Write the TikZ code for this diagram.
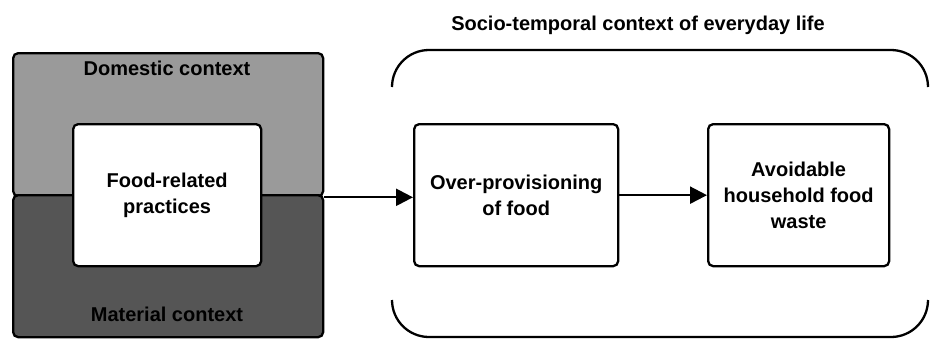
\documentclass[tikz,border=0pt]{standalone}
\usepackage{fontspec}
\setmainfont{Liberation Sans}
\usetikzlibrary{arrows.meta}
\definecolor{domgray}{HTML}{9A9A9A}
\definecolor{matgray}{HTML}{555555}
\begin{document}
\begin{tikzpicture}[x=1pt,y=-1pt,
  box/.style={draw=black,line width=2.3pt,rounded corners=5pt,inner sep=0pt,align=center,
    font=\bfseries\fontsize{20}{26}\selectfont},
  ctx/.style={font=\bfseries\fontsize{20}{24}\selectfont},
  arr/.style={line width=2.3pt,-{Triangle[length=17pt,width=17pt]}}]
\useasboundingbox (0,0) rectangle (932,338);
% left contexts
\node[box,fill=domgray,minimum width=310pt,minimum height=143pt,anchor=north west] (dom) at (12,52) {};
\node[box,fill=matgray,minimum width=310pt,minimum height=142pt,anchor=north west] (mat) at (12,194) {};
\node[ctx] (domlab) at (167,68) {Domestic context};
\node[ctx] (matlab) at (167,314) {Material context};
\node[box,fill=white,minimum width=188pt,minimum height=142pt,anchor=north west] (frp) at (72,123) {Food-related\\practices};
% socio-temporal bracket
\node[ctx] (title) at (638,25) {Socio-temporal context of everyday life};
\coordinate (tl) at (392,87);
\coordinate (bl) at (392,300);
\draw[line width=2.3pt] (tl) arc[start angle=180,end angle=90,radius=37pt] -- (891,50) arc[start angle=90,end angle=0,radius=37pt];
\draw[line width=2.3pt] (bl) arc[start angle=180,end angle=270,radius=37pt] -- (891,337) arc[start angle=270,end angle=360,radius=37pt];
% process boxes
\node[box,fill=white,minimum width=204pt,minimum height=142pt,anchor=north west] (over) at (413,123) {Over-provisioning\\of food};
\node[box,fill=white,minimum width=181pt,minimum height=142pt,anchor=north west] (waste) at (707,123) {Avoidable\\household food\\waste};
% arrows
\coordinate (split) at (dom.south east);
\draw[arr] (split) -- (over.west |- split);
\draw[arr] (over) -- (waste);
\end{tikzpicture}
\end{document}
